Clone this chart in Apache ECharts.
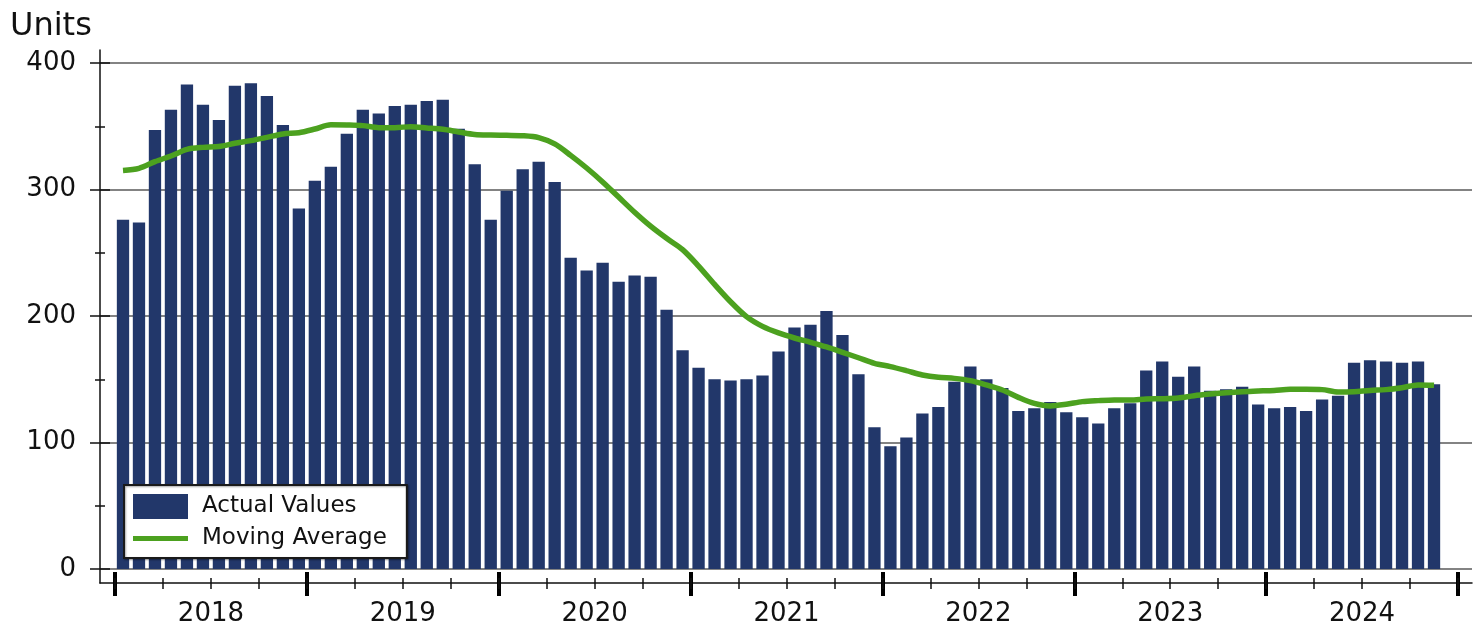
<!DOCTYPE html>
<html>
<head>
<meta charset="utf-8">
<title>Units</title>
<script src="https://cdn.jsdelivr.net/npm/echarts@6/dist/echarts.min.js"></script>
<style>
    html, body {margin: 0; padding: 0; background: #fff;}
    #chart {width: 1483px; height: 625px;}
</style>
</head>
<body>
<div id="chart"></div>
<script>
let font = 'DejaVu Sans';
let navy = '#22376A';
let green = '#4CA11F';

let years = ['2018', '2019', '2020', '2021', '2022', '2023', '2024'];
let quarters = [];//只用来画季度小刻度
years.forEach(y => ['Q1', 'Q2', 'Q3', 'Q4'].forEach(q => quarters.push(y + q)));
let months = [];
years.forEach(y => {
    for (let m = 1; m <= 12; m++) months.push(y + '-' + (m < 10 ? '0' + m : m));
});

// 实际值 2018-01 ~ 2024-11
let actualValues = [
    276, 274, 347, 363, 383, 367, 355, 382, 384, 374, 351, 285,
    307, 318, 344, 363, 360, 366, 367, 370, 371, 348, 320, 276,
    299, 316, 322, 306, 246, 236, 242, 227, 232, 231, 205, 173,
    159, 150, 149, 150, 153, 172, 191, 193, 204, 185, 154, 112,
    97, 104, 123, 128, 148, 160, 150, 143, 125, 127, 132, 124,
    120, 115, 127, 131, 157, 164, 152, 160, 141, 142, 144, 130,
    127, 128, 125, 134, 137, 163, 165, 164, 163, 164, 146
];
// 移动平均
let movingAverage = [
    315, 316.7, 322, 326.5, 331.7, 333.3, 334, 336.5, 338.6, 341.2, 343.9, 344.9,
    347.8, 351.2, 351, 350.5, 348.9, 348.9, 349.7, 348.7, 347.6, 345.5, 343.5, 343,
    342.8, 342.5, 341, 336, 327, 317, 306, 294, 282, 271, 261.4, 252.5,
    239.5, 225, 211.3, 199.5, 191.8, 186.6, 182.6, 179.2, 175.5, 171.3, 167, 162.6,
    160, 156.8, 153.4, 151.5, 150.7, 148.9, 145.5, 141.5, 135.7, 130.9, 128.9, 130.2,
    132.3, 133.1, 133.6, 133.6, 134.4, 134.6, 135.2, 137, 138.3, 139.4, 140.2, 140.7,
    141.2, 142, 142, 141.8, 139.9, 140.2, 141.2, 141.8, 143.3, 145.5, 145.2
];
let yTicks = {min: 0, max: 400, interval: 100};

let myChart = echarts.init(document.getElementById('chart'));

let hidden = {show: false};
let frameAxis = {
    type: 'value', min: 0, max: 1,
    axisLine: {show: true, lineStyle: {color: '#111', width: 1.5}},
    axisTick: hidden, axisLabel: hidden, splitLine: hidden
};

myChart.setOption({
    animation: false,
    textStyle: {fontFamily: font},
    title: {
        text: 'Units', left: 5, top: 6,
        textStyle: {fontFamily: font, fontSize: 32, fontWeight: 'normal', color: '#111'}
    },
    legend: {
        orient: 'vertical', left: 124, top: 485,
        itemWidth: 55, itemHeight: 25, itemGap: 8,
        padding: [9, 20, 8, 9],
        backgroundColor: '#fff', borderColor: '#1a1a1a', borderWidth: 2,
        shadowColor: 'rgba(0,0,0,0.35)', shadowBlur: 2, shadowOffsetX: 1, shadowOffsetY: 1,
        textStyle: {fontFamily: font, fontSize: 23, color: '#111', padding: [0, 0, 0, 9]},
        data: [
            {name: 'Actual Values', icon: 'rect'},
            {name: 'Moving Average', icon: 'path://M0,0H55V5H0Z'}
        ]
    },
    grid: [
        {left: 100, right: 11, top: 50, bottom: 42, outerBoundsMode: 'none'},   // 坐标轴外框
        {left: 100, right: 11, top: 63, bottom: 56, outerBoundsMode: 'none'},   // y轴刻度 网格线
        {left: 115, right: 25, top: 63, bottom: 56, outerBoundsMode: 'none'}    // 数据
    ],
    xAxis: [
        Object.assign({gridIndex: 0, position: 'bottom'}, frameAxis),
        {gridIndex: 1, type: 'value', show: false},
        {gridIndex: 2, type: 'category', data: months, show: false},
        {
            gridIndex: 2, type: 'category', data: years, position: 'bottom', offset: 3,
            axisLine: hidden,
            axisTick: {show: true, interval: 0, length: 24, lineStyle: {color: '#000', width: 4}},
            axisLabel: {interval: 0, margin: 29, fontSize: 26, color: '#111', fontFamily: font}
        },
        {
            gridIndex: 2, type: 'category', data: quarters, position: 'bottom', offset: 9,
            axisLine: hidden, axisLabel: hidden,
            axisTick: {show: true, interval: 0, length: 11, lineStyle: {color: '#111', width: 1.5}}
        }
    ],
    yAxis: [
        Object.assign({gridIndex: 0, position: 'left'}, frameAxis),
        Object.assign({
            gridIndex: 1, type: 'value', position: 'left',
            axisLine: hidden,
            axisTick: {show: true, length: 10, lineStyle: {color: '#111', width: 1.5}},
            minorTick: {show: true, splitNumber: 2, length: 5, lineStyle: {color: '#111', width: 1.5}},
            axisLabel: {margin: 24, fontSize: 26, color: '#111', fontFamily: font},
            splitLine: {show: true, lineStyle: {color: '#5a5a5a', width: 1.5}}
        }, yTicks),
        Object.assign({
            gridIndex: 1, type: 'value', position: 'left',
            axisLine: hidden, axisLabel: hidden, splitLine: hidden,
            axisTick: {show: true, inside: true, length: 10, lineStyle: {color: '#111', width: 1.5}},
            minorTick: {show: true, splitNumber: 2, length: 5, lineStyle: {color: '#111', width: 1.5}}
        }, yTicks),
        Object.assign({gridIndex: 2, type: 'value', position: 'left', show: false}, yTicks)
    ],
    series: [
        {
            name: 'Actual Values', type: 'bar',
            xAxisIndex: 2, yAxisIndex: 3,
            barCategoryGap: '23%',
            itemStyle: {color: navy},
            data: actualValues
        },
        {
            name: 'Moving Average', type: 'line',
            xAxisIndex: 2, yAxisIndex: 3,
            smooth: 0.3, symbol: 'none', showSymbol: false,
            color: green,
            itemStyle: {color: green},
            lineStyle: {color: green, width: 5.5, cap: 'butt'},
            data: movingAverage
        }
    ]
});
</script>
</body>
</html>
